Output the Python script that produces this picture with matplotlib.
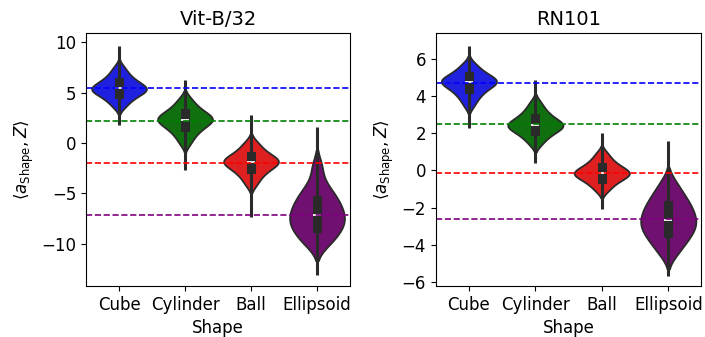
import numpy as np
import pandas as pd
import matplotlib
matplotlib.use("Agg")
import matplotlib.pyplot as plt
import seaborn as sns

shapes = ["Cube", "Cylinder", "Ball", "Ellipsoid"]
colors = ["blue", "green", "red", "purple"]

# body samples (Vit-B/32)
vit_cube = [3.48, 3.84, 4.10, 4.31, 4.49, 4.63, 4.77, 4.89, 4.99, 5.09, 5.17, 5.25, 5.33,
            5.40,
            5.48, 5.57, 5.66, 5.76, 5.87, 5.99, 6.12, 6.28, 6.44, 6.65, 6.89, 7.19, 7.60]
vit_cyl = [-0.17, 0.29, 0.63, 0.90, 1.13, 1.31, 1.49, 1.64, 1.77, 1.89, 2.00, 2.11, 2.21,
           2.30,
           2.38, 2.47, 2.56, 2.66, 2.77, 2.89, 3.02, 3.18, 3.34, 3.55, 3.79, 4.09, 4.50]
vit_ball = [-4.28, -3.84, -3.51, -3.25, -3.03, -2.85, -2.68, -2.54, -2.41, -2.29, -2.19, -2.08, -1.99,
            -1.90,
            -1.82, -1.74, -1.65, -1.56, -1.45, -1.34, -1.21, -1.06, -0.90, -0.70, -0.47, -0.19, 0.20]
vit_ell = [-10.38, -9.96, -9.63, -9.35, -9.08, -8.84, -8.62, -8.42, -8.22, -8.03, -7.84, -7.65, -7.48,
           -7.30,
           -7.11, -6.92, -6.71, -6.51, -6.29, -6.08, -5.86, -5.62, -5.36, -5.07, -4.76, -4.40, -3.90,
           -2.90, -2.00]
vit_lo = [1.8, -2.7, -7.3, -13.07]   # ends of the thin tails
vit_hi = [9.57, 6.27, 2.77, 1.62]
vit_means = [5.4, 2.2, -2.0, -7.1]

# body samples (RN101)
rn_cube = [3.43, 3.68, 3.86, 4.00, 4.12, 4.22, 4.32, 4.40, 4.47, 4.53, 4.59, 4.65, 4.70,
           4.75,
           4.79, 4.83, 4.88, 4.92, 4.97, 5.03, 5.09, 5.17, 5.25, 5.34, 5.46, 5.60, 5.79]
rn_cyl = [1.35, 1.56, 1.71, 1.83, 1.93, 2.01, 2.09, 2.16, 2.22, 2.27, 2.32, 2.37, 2.41,
          2.45,
          2.50, 2.55, 2.60, 2.66, 2.72, 2.79, 2.87, 2.96, 3.06, 3.18, 3.32, 3.49, 3.73]
rn_ball = [-1.16, -0.97, -0.83, -0.72, -0.63, -0.55, -0.48, -0.41, -0.36, -0.31, -0.26, -0.22, -0.18,
           -0.14,
           -0.10, -0.05, 0.00, 0.05, 0.10, 0.16, 0.23, 0.31, 0.40, 0.50, 0.63, 0.78, 0.99]
rn_ell = [-4.65, -4.34, -4.11, -3.93, -3.78, -3.63, -3.50, -3.38, -3.27, -3.16, -3.06, -2.95, -2.85, -2.76,
          -2.66,
          -2.56, -2.45, -2.34, -2.23, -2.11, -2.00, -1.88, -1.75, -1.61, -1.45, -1.28, -1.09, -0.84, -0.50]
rn_lo = [2.27, 0.42, -2.07, -5.68]
rn_hi = [6.69, 4.88, 2.02, 1.58]
rn_means = [4.7, 2.5, -0.15, -2.6]


def to_frame(groups):
    rows = []
    for name, vals in zip(shapes, groups):
        for v in vals:
            rows.append((name, v))
    return pd.DataFrame(rows, columns=["Shape", "value"])


panels = [
    ("Vit-B/32", to_frame([vit_cube, vit_cyl, vit_ball, vit_ell]), vit_lo, vit_hi, vit_means, (-14.2, 10.9)),
    ("RN101", to_frame([rn_cube, rn_cyl, rn_ball, rn_ell]), rn_lo, rn_hi, rn_means, (-6.23, 7.4)),
]

fig = plt.figure(figsize=(7.05, 3.37), dpi=100)
boxes = [(0.122, 0.151, 0.3745, 0.751), (0.618, 0.151, 0.377, 0.751)]
dark = "#2a2a2a"

for (title, df, lo, hi, means, ylim), rect in zip(panels, boxes):
    ax = fig.add_axes(rect)
    # thin tails / whiskers, above the violin fill but under the box
    ax.vlines(range(len(shapes)), lo, hi, color=dark, linewidth=2.2, zorder=1.5)
    sns.violinplot(data=df, x="Shape", y="value", hue="Shape", palette=colors,
                   order=shapes, hue_order=shapes, density_norm="width",
                   cut=1.5, bw_adjust=0.8, width=0.83, linewidth=1.3, linecolor=dark,
                   inner_kws=dict(box_width=6.5, whis_width=2.2),
                   legend=False, ax=ax)
    for m, c in zip(means, colors):
        ax.axhline(m, color=c, linestyle="--", linewidth=1.2)
    ax.set_ylim(*ylim)
    ax.set_title(title, fontsize=14)
    ax.set_xlabel("Shape", fontsize=12)
    ax.set_ylabel(r"$\langle a_{\mathrm{Shape}}, Z\rangle$", fontsize=12)
    ax.tick_params(labelsize=12)

fig.savefig("out.png", dpi=100)
